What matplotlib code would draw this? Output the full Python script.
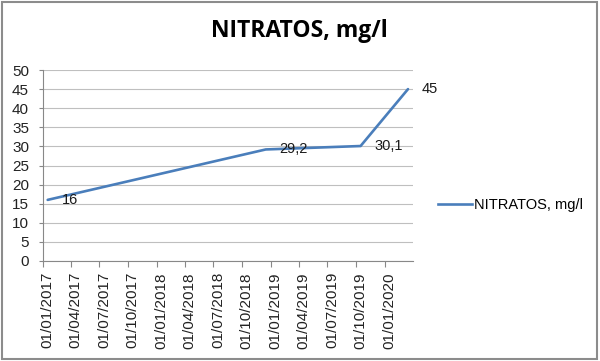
import matplotlib
matplotlib.use("Agg")
import matplotlib.pyplot as plt
from matplotlib.patches import Rectangle
from matplotlib.lines import Line2D
import datetime as dt

# ---- data ----
series_name = "NITRATOS, mg/l"
months = ["2017-01", "2018-12", "2019-10", "2020-03"]
values = [16, 29.2, 30.1, 45]
tick_months = ["2017-01", "2017-04", "2017-07", "2017-10", "2018-01", "2018-04",
               "2018-07", "2018-10", "2019-01", "2019-04", "2019-07", "2019-10", "2020-01"]
tick_labels = ["01/01/2017", "01/04/2017", "01/07/2017", "01/10/2017", "01/01/2018",
               "01/04/2018", "01/07/2018", "01/10/2018", "01/01/2019", "01/04/2019",
               "01/07/2019", "01/10/2019", "01/01/2020"]
y_ticks = [0, 5, 10, 15, 20, 25, 30, 35, 40, 45, 50]

def month_start(s):
    y, m = s.split("-")
    return dt.date(int(y), int(m), 1)

def month_mid(s):
    y, m = s.split("-")
    return dt.date(int(y), int(m), 16)

font = "Liberation Sans"
plt.rcParams['font.family'] = [font, 'DejaVu Sans']

fig = plt.figure(figsize=(6, 3.61), dpi=100)
ax = fig.add_axes([43/600, 1-261/361, (413-43)/600, (261-70)/361])

line_color = "#4a7ebb"
xd = [month_mid(m) for m in months]
ax.plot(xd, values, color=line_color, lw=1.9, solid_capstyle="round", solid_joinstyle="round")

for x, v in zip(xd, values):
    txt = (f"{v:g}").replace(".", ",")
    ax.annotate(txt, (x, v), xytext=(10, 0), textcoords="offset points",
                ha="left", va="center", fontsize=10.5, color="#1a1a1a")

ax.set_xlim(dt.date(2017, 1, 1), dt.date(2020, 4, 1))
ax.set_ylim(0, 50)
ax.set_yticks(y_ticks)
ax.set_yticklabels([str(t) for t in y_ticks], fontsize=11, color="#222222")

ax.set_xticks([month_start(m) for m in tick_months])
ax.set_xticklabels([])
ax.set_xticks([month_mid(m) for m in tick_months], minor=True)
ax.set_xticklabels(tick_labels, minor=True, rotation=90, fontsize=11, color="#222222")
ax.tick_params(axis="x", which="major", length=4.5, color="#888888", width=0.8)
ax.tick_params(axis="x", which="minor", length=0, pad=8)
ax.tick_params(axis="y", length=3, color="#888888", width=0.8, pad=7)

ax.grid(axis="y", color="#bfbfbf", lw=0.8)
ax.set_axisbelow(True)
for s in ["top", "right"]:
    ax.spines[s].set_visible(False)
for s in ["left", "bottom"]:
    ax.spines[s].set_color("#888888")
    ax.spines[s].set_linewidth(0.8)

fig.text(299/600, 1-31/361, "NITRATOS, mg/l", ha="center", va="center",
         fontsize=16.5, fontweight="bold", family=["Open Sans", "DejaVu Sans"])

handle = Line2D([], [], color=line_color, lw=1.9)
fig.legend([handle], [series_name], loc="center left",
           bbox_to_anchor=(438/600, 1-205/361), frameon=False, fontsize=10.5,
           handlelength=2.3, handletextpad=0.2, borderpad=0, borderaxespad=0)

fig.patches.append(Rectangle((2/600, 2/361), 595/600, 357/361, transform=fig.transFigure,
                             fill=False, edgecolor="#8c8c8c", lw=1.5))

fig.savefig("out.png", dpi=100)
